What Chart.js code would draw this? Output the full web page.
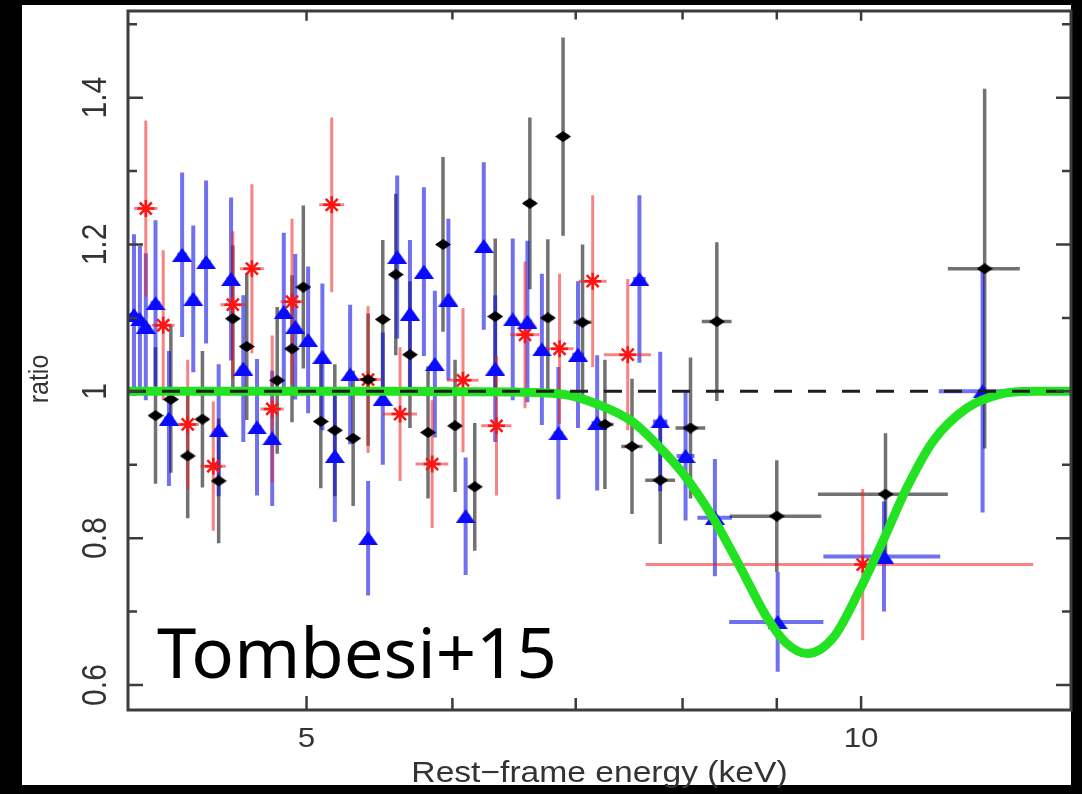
<!DOCTYPE html>
<html>
<head>
<meta charset="utf-8">
<title>Rest-frame energy ratio</title>
<script src="https://cdn.jsdelivr.net/npm/chart.js@4.4.1/dist/chart.umd.min.js"></script>
<style>
  html, body { margin: 0; padding: 0; background: #000; }
  #wrap { width: 1082px; height: 794px; }
</style>
</head>
<body>
<div id="wrap"><canvas id="ratioChart" width="1082" height="794"></canvas></div>
<script>
// data/model ratio per instrument: energy (keV), ratio, 1-sigma ratio error, half bin width (keV)
const blackEnergy = [4.14, 4.22, 4.31, 4.39, 4.48, 4.56, 4.64, 4.82, 4.91, 4.98, 5.09, 5.18, 5.30, 5.40, 5.50, 5.59, 5.69, 5.82, 5.93, 6.02, 6.17, 6.33, 6.61, 6.76, 6.89, 7.06, 7.26, 7.51, 7.78, 8.08, 8.35, 9.00, 10.31, 11.67];
const blackRatio = [0.967, 0.989, 0.912, 0.962, 0.878, 1.099, 1.061, 1.015, 1.058, 1.142, 0.959, 0.947, 0.936, 1.016, 1.098, 1.159, 1.050, 0.944, 1.200, 0.953, 0.870, 1.102, 1.256, 1.100, 1.347, 1.094, 0.955, 0.925, 0.879, 0.950, 1.095, 0.830, 0.860, 1.167];
const blackRatioErr = [0.093, 0.10, 0.085, 0.093, 0.085, 0.10, 0.10, 0.10, 0.10, 0.111, 0.091, 0.09, 0.092, 0.09, 0.108, 0.11, 0.10, 0.09, 0.119, 0.09, 0.087, 0.106, 0.117, 0.107, 0.135, 0.106, 0.088, 0.092, 0.087, 0.096, 0.108, 0.076, 0.083, 0.245];
const blackEnergyErr = [0.03, 0.03, 0.03, 0.03, 0.03, 0.03, 0.03, 0.03, 0.03, 0.03, 0.03, 0.03, 0.03, 0.03, 0.03, 0.03, 0.03, 0.03, 0.03, 0.03, 0.04, 0.04, 0.05, 0.05, 0.05, 0.08, 0.08, 0.10, 0.145, 0.15, 0.155, 0.515, 0.835, 0.525];

const redEnergy = [4.09, 4.18, 4.31, 4.45, 4.56, 4.67, 4.79, 4.91, 5.16, 5.40, 5.62, 5.85, 6.08, 6.34, 6.57, 6.86, 7.15, 7.47, 10.02];
const redRatio = [1.249, 1.090, 0.955, 0.898, 1.118, 1.167, 0.976, 1.122, 1.254, 1.016, 0.969, 0.901, 1.015, 0.953, 1.077, 1.058, 1.150, 1.050, 0.764];
const redRatioErr = [0.12, 0.102, 0.088, 0.088, 0.10, 0.115, 0.10, 0.113, 0.119, 0.10, 0.091, 0.087, 0.098, 0.095, 0.10, 0.102, 0.117, 0.103, 0.103];
const redEnergyErr = [0.06, 0.06, 0.06, 0.07, 0.07, 0.07, 0.07, 0.07, 0.08, 0.09, 0.12, 0.12, 0.12, 0.12, 0.12, 0.12, 0.125, 0.22, 2.38];

const blueEnergy = [4.03, 4.06, 4.09, 4.14, 4.21, 4.28, 4.34, 4.41, 4.48, 4.55, 4.62, 4.70, 4.79, 4.86, 4.93, 5.01, 5.10, 5.18, 5.28, 5.40, 5.50, 5.60, 5.69, 5.79, 5.87, 5.97, 6.10, 6.24, 6.33, 6.47, 6.59, 6.71, 6.85, 7.02, 7.19, 7.58, 7.78, 8.03, 8.33, 9.01, 10.29, 11.64];
const blueRatio = [1.104, 1.098, 1.088, 1.120, 0.963, 1.186, 1.126, 1.176, 0.947, 1.153, 1.031, 0.951, 0.936, 1.108, 1.088, 1.070, 1.047, 0.912, 1.023, 0.800, 0.990, 1.183, 1.106, 1.163, 1.037, 1.125, 0.830, 1.198, 1.031, 1.098, 1.095, 1.057, 0.943, 1.050, 0.957, 1.153, 0.959, 0.912, 0.828, 0.686, 0.775, 1.000];
const blueRatioErr = [0.11, 0.10, 0.10, 0.113, 0.092, 0.112, 0.10, 0.111, 0.09, 0.111, 0.10, 0.093, 0.092, 0.108, 0.099, 0.10, 0.10, 0.09, 0.095, 0.078, 0.09, 0.111, 0.10, 0.115, 0.10, 0.11, 0.08, 0.114, 0.10, 0.11, 0.11, 0.103, 0.09, 0.10, 0.092, 0.114, 0.095, 0.088, 0.08, 0.068, 0.075, 0.165];
const blueEnergyErr = [0.025, 0.025, 0.025, 0.025, 0.025, 0.025, 0.025, 0.025, 0.025, 0.025, 0.025, 0.025, 0.025, 0.025, 0.025, 0.025, 0.025, 0.025, 0.025, 0.025, 0.025, 0.025, 0.025, 0.025, 0.025, 0.025, 0.03, 0.03, 0.03, 0.035, 0.035, 0.04, 0.04, 0.05, 0.05, 0.06, 0.07, 0.09, 0.18, 0.53, 0.75, 0.62];

// absorption line model
const modelEnergy = [4.0, 5.5, 6.5, 6.89, 7.2, 7.51, 7.78, 8.01, 8.3, 8.6, 8.89, 9.1, 9.35, 9.66, 9.98, 10.28, 10.59, 10.94, 11.41, 11.89, 12.4, 13.0];
const modelRatio = [1.0, 1.0, 0.999, 0.996, 0.982, 0.959, 0.923, 0.887, 0.83, 0.76, 0.692, 0.658, 0.643, 0.665, 0.729, 0.797, 0.869, 0.932, 0.977, 0.996, 1.0, 1.0];

// axes
const xMin = 4, xMax = 13;
const yMin = 0.566, yMax = 1.518;
const xMajorTicks = [5, 10];
const xMajorLabels = ['5', '10'];
const xMinorTicks = [6, 7, 8, 9];
const yMajorTicks = [0.6, 0.8, 1.0, 1.2, 1.4];
const yMajorLabels = ['0.6', '0.8', '1', '1.2', '1.4'];
const yMinorTicks = [0.7, 0.9, 1.1, 1.3, 1.5];
const xTitle = 'Rest\u2212frame energy (keV)';
const yTitle = 'ratio';
const tag = 'Tombesi+15';

function toPoints(energy, ratio, ratioErr, energyErr) {
  return energy.map((e, i) => ({
    x: e, y: ratio[i],
    xMin: e - energyErr[i], xMax: e + energyErr[i],
    yMin: ratio[i] - ratioErr[i], yMax: ratio[i] + ratioErr[i]
  }));
}

// flat marker shapes drawn once onto small canvases
function marker(w, h, color, shape) {
  const c = document.createElement('canvas');
  c.width = w; c.height = h;
  const g = c.getContext('2d');
  g.fillStyle = color;
  g.beginPath();
  if (shape === 'diamond') {
    g.moveTo(w / 2, 0); g.lineTo(w, h / 2); g.lineTo(w / 2, h); g.lineTo(0, h / 2);
  } else {
    g.moveTo(w / 2, 0); g.lineTo(w, h); g.lineTo(0, h);
  }
  g.closePath();
  g.fill();
  return c;
}

// text with a horizontal stretch, optionally turned to read bottom-to-top
function stretchedText(ctx, text, x, y, font, stretch, rotated, baseline) {
  ctx.save();
  ctx.translate(x, y);
  if (rotated) {
    ctx.rotate(-Math.PI / 2);
    ctx.scale(1, stretch);
  } else {
    ctx.scale(stretch, 1);
  }
  ctx.font = font;
  ctx.textAlign = 'center';
  ctx.textBaseline = baseline || 'middle';
  ctx.fillText(text, 0, 0);
  ctx.restore();
}

const errorBars = {
  id: 'errorBars',
  beforeDatasetsDraw(chart) {
    const { ctx, chartArea: a, scales: { x, y } } = chart;
    ctx.save();
    ctx.beginPath();
    ctx.rect(a.left, a.top, a.right - a.left, a.bottom - a.top);
    ctx.clip();
    ctx.lineCap = 'butt';
    chart.data.datasets.forEach(ds => {
      if (!ds.barColor) return;
      ctx.strokeStyle = ds.barColor;
      ctx.lineWidth = ds.barWidth;
      ds.data.forEach(p => {
        const px = x.getPixelForValue(p.x);
        const py = y.getPixelForValue(p.y);
        ctx.beginPath();
        ctx.moveTo(px, y.getPixelForValue(p.yMin));
        ctx.lineTo(px, y.getPixelForValue(p.yMax));
        ctx.moveTo(x.getPixelForValue(p.xMin), py);
        ctx.lineTo(x.getPixelForValue(p.xMax), py);
        ctx.stroke();
      });
    });
    ctx.restore();
  }
};

const panel = {
  id: 'panel',
  beforeDraw(chart) {
    const ctx = chart.ctx;
    ctx.save();
    ctx.fillStyle = '#000';
    ctx.fillRect(0, 0, chart.width, chart.height);
    ctx.fillStyle = '#fff';
    ctx.fillRect(22, 5, chart.chartArea.right - 22, 780);
    ctx.restore();
  },
  afterDraw(chart) {
    const { ctx, chartArea: a, scales: { x, y } } = chart;
    ctx.save();
    // frame
    ctx.strokeStyle = '#3c3c3c';
    ctx.lineWidth = 3;
    ctx.strokeRect(a.left, a.top, a.right - a.left, a.bottom - a.top);
    ctx.lineWidth = 2.5;
    ctx.beginPath();
    const yTick = (v, len) => {
      const py = y.getPixelForValue(v);
      ctx.moveTo(a.left, py); ctx.lineTo(a.left + len, py);
      ctx.moveTo(a.right, py); ctx.lineTo(a.right - len, py);
    };
    const xTick = (v, len) => {
      const px = x.getPixelForValue(v);
      ctx.moveTo(px, a.bottom); ctx.lineTo(px, a.bottom - len);
      ctx.moveTo(px, a.top); ctx.lineTo(px, a.top + len * 0.7);
    };
    yMajorTicks.forEach(v => yTick(v, 15));
    yMinorTicks.forEach(v => yTick(v, 9));
    xMajorTicks.forEach(v => xTick(v, 14));
    xMinorTicks.forEach(v => xTick(v, 12));
    ctx.stroke();

    // tick labels and titles
    ctx.fillStyle = '#333';
    xMajorTicks.forEach((v, i) => {
      stretchedText(ctx, xMajorLabels[i], x.getPixelForValue(v), 739, '28px "Liberation Sans", Arial, sans-serif', 1.12, false);
    });
    yMajorTicks.forEach((v, i) => {
      stretchedText(ctx, yMajorLabels[i], 96, y.getPixelForValue(v), '30px "Liberation Sans", Arial, sans-serif', 1.15, true);
    });
    stretchedText(ctx, yTitle, 40, 379, '25px "Liberation Sans", Arial, sans-serif', 1.1, true);
    stretchedText(ctx, xTitle, (a.left + a.right) / 2, 782, '30px "Liberation Sans", Arial, sans-serif', 1.12, false, 'alphabetic');

    // annotation
    ctx.fillStyle = '#000';
    ctx.font = '70px "Noto Sans", sans-serif';
    const w = ctx.measureText(tag).width;
    ctx.save();
    ctx.translate(157, 678);
    ctx.scale(400 / w, 1);
    ctx.textAlign = 'left';
    ctx.textBaseline = 'alphabetic';
    ctx.fillText(tag, 0, 0);
    ctx.restore();
    ctx.restore();
  }
};

const ctx = document.getElementById('ratioChart').getContext('2d');
new Chart(ctx, {
  type: 'scatter',
  data: {
    datasets: [
      {
        type: 'line',
        data: [{ x: xMin, y: 1 }, { x: xMax, y: 1 }],
        borderColor: '#1e1e1e',
        borderWidth: 3,
        borderDash: [18, 16],
        pointRadius: 0,
        fill: false,
        order: 0
      },
      {
        type: 'line',
        data: modelEnergy.map((e, i) => ({ x: e, y: modelRatio[i] })),
        borderColor: 'rgb(34, 226, 34)',
        borderWidth: 9,
        pointRadius: 0,
        cubicInterpolationMode: 'monotone',
        fill: false,
        order: 1
      },
      {
        data: toPoints(blackEnergy, blackRatio, blackRatioErr, blackEnergyErr),
        pointStyle: marker(16, 11, '#000', 'diamond'),
        barColor: 'rgba(20, 20, 20, 0.6)',
        barWidth: 3.5,
        order: 2
      },
      {
        data: toPoints(blueEnergy, blueRatio, blueRatioErr, blueEnergyErr),
        pointStyle: marker(20, 14, '#0a0aff', 'triangle'),
        barColor: 'rgba(10, 10, 230, 0.58)',
        barWidth: 4,
        order: 3
      },
      {
        data: toPoints(redEnergy, redRatio, redRatioErr, redEnergyErr),
        pointStyle: 'star',
        pointRadius: 8.5,
        borderColor: '#ff1414',
        borderWidth: 2.5,
        barColor: 'rgba(240, 30, 30, 0.55)',
        barWidth: 3,
        order: 4
      }
    ]
  },
  options: {
    responsive: false,
    animation: false,
    layout: { padding: { top: 8, right: 9, bottom: 0, left: 0 } },
    plugins: { legend: { display: false }, tooltip: { enabled: false } },
    scales: {
      x: {
        type: 'logarithmic',
        min: xMin,
        max: xMax,
        grid: { display: false },
        border: { display: false },
        ticks: { display: false },
        afterFit(scale) { scale.height = 84; }
      },
      y: {
        type: 'linear',
        min: yMin,
        max: yMax,
        grid: { display: false },
        border: { display: false },
        ticks: { display: false },
        afterFit(scale) { scale.width = 128; }
      }
    }
  },
  plugins: [panel, errorBars]
});
</script>
</body>
</html>
